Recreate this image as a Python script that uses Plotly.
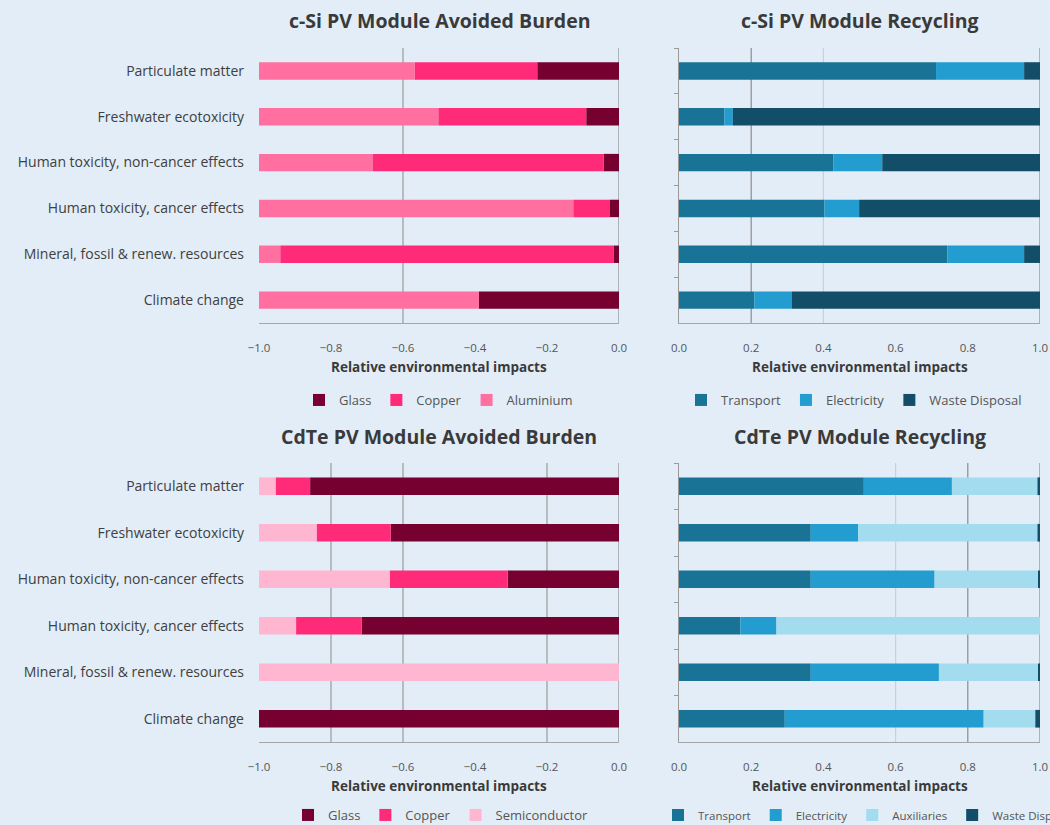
import plotly.graph_objects as go

# ---------------- data ----------------
categories = [
    "Particulate matter",
    "Freshwater ecotoxicity",
    "Human toxicity, non-cancer effects",
    "Human toxicity, cancer effects",
    "Mineral, fossil & renew. resources",
    "Climate change",
]

# c-Si avoided burden (relative, negative)
csi_glass = [-0.227, -0.091, -0.043, -0.025, -0.014, -0.389]
csi_copper = [-0.340, -0.411, -0.642, -0.102, -0.927, 0.0]
csi_aluminium = [-0.433, -0.498, -0.315, -0.873, -0.059, -0.611]

# c-Si recycling
csi_transport = [0.712, 0.126, 0.428, 0.403, 0.743, 0.209]
csi_electricity = [0.244, 0.023, 0.135, 0.096, 0.213, 0.103]
csi_waste = [0.044, 0.851, 0.437, 0.501, 0.044, 0.688]

# CdTe avoided burden
cdte_glass = [-0.858, -0.634, -0.309, -0.715, 0.0, -1.0]
cdte_copper = [-0.096, -0.206, -0.328, -0.182, 0.0, 0.0]
cdte_semiconductor = [-0.046, -0.160, -0.363, -0.103, -1.0, 0.0]

# CdTe recycling
cdte_transport = [0.512, 0.365, 0.365, 0.170, 0.365, 0.293]
cdte_electricity = [0.244, 0.131, 0.343, 0.100, 0.355, 0.551]
cdte_auxiliaries = [0.237, 0.497, 0.287, 0.730, 0.275, 0.143]
cdte_waste = [0.007, 0.007, 0.005, 0.0, 0.005, 0.013]

titles = [
    "c-Si PV Module Avoided Burden",
    "c-Si PV Module Recycling",
    "CdTe PV Module Avoided Burden",
    "CdTe PV Module Recycling",
]
x_title = "Relative environmental impacts"

# ---------------- style ----------------
BG = "#e2edf7"
FONT = "'Open Sans', Lato, sans-serif"
C_GLASS = "#760030"
C_COPPER = "#ff2a78"
C_ALU = "#ff6f9f"
C_SEMI = "#ffb6d0"
C_TRANS = "#187397"
C_ELEC = "#239dcf"
C_AUX = "#a3dcef"
C_WASTE = "#134e68"

fig = go.Figure()

panels = [
    ("x", "y", "legend", [("Glass", csi_glass, C_GLASS), ("Copper", csi_copper, C_COPPER),
                          ("Aluminium", csi_aluminium, C_ALU)]),
    ("x2", "y2", "legend2", [("Transport", csi_transport, C_TRANS), ("Electricity", csi_electricity, C_ELEC),
                             ("Waste Disposal", csi_waste, C_WASTE)]),
    ("x3", "y3", "legend3", [("Glass", cdte_glass, C_GLASS), ("Copper", cdte_copper, C_COPPER),
                             ("Semiconductor", cdte_semiconductor, C_SEMI)]),
    ("x4", "y4", "legend4", [("Transport", cdte_transport, C_TRANS), ("Electricity", cdte_electricity, C_ELEC),
                             ("Auxiliaries", cdte_auxiliaries, C_AUX), ("Waste Disposal", cdte_waste, C_WASTE)]),
]

for xa, ya, lg, series in panels:
    for name, vals, col in series:
        fig.add_trace(go.Bar(
            y=categories, x=vals, name=name, orientation="h",
            marker=dict(color=col, line=dict(width=0)),
            xaxis=xa, yaxis=ya, legend=lg,
        ))

W, H = 1050, 825
xl = [259 / W, 619 / W]
xr = [679 / W, 1040 / W]
yt = [1 - 323 / H, 1 - 48 / H]
yb = [1 - 742 / H, 1 - 463 / H]

tickfont = dict(family=FONT, size=11.5, color="#555555")
catfont = dict(family=FONT, size=14, color="#404040")

def xax(domain, rng, anchor):
    return dict(domain=domain, range=rng, anchor=anchor, dtick=0.2, tickformat=".1f",
                showgrid=False, zeroline=False, showline=True, linecolor="#a6a6a6",
                linewidth=1, ticks="", tickfont=tickfont, ticklabelstandoff=14,
                automargin=False, fixedrange=True)

def yax(domain, anchor, labels):
    d = dict(domain=domain, anchor=anchor, autorange="reversed", type="category",
             showgrid=False, zeroline=False, tickfont=catfont, automargin=False, fixedrange=True)
    if labels:
        d.update(showticklabels=True, ticks="", showline=False, ticklabelstandoff=14)
    else:
        d.update(showticklabels=False, showline=True, linecolor="#999999", linewidth=1,
                 ticks="outside", tickson="boundaries", ticklen=4, tickcolor="#999999")
    return d

fig.update_layout(
    width=W, height=H,
    margin=dict(l=0, r=0, t=0, b=0, autoexpand=False),
    paper_bgcolor=BG, plot_bgcolor=BG,
    barmode="relative", bargap=0.62,
    font=dict(family=FONT, color="#444444"),
    xaxis=xax(xl, [-1.0, 0.0], "y"),
    yaxis=yax(yt, "x", True),
    xaxis2=xax(xr, [0.0, 1.0], "y2"),
    yaxis2=yax(yt, "x2", False),
    xaxis3=xax(xl, [-1.0, 0.0], "y3"),
    yaxis3=yax(yb, "x3", True),
    xaxis4=xax(xr, [0.0, 1.0], "y4"),
    yaxis4=yax(yb, "x4", False),
    showlegend=True,
)

legfont = dict(family=FONT, size=13, color="#555555")
common = dict(orientation="h", xanchor="left", yanchor="middle", font=legfont,
              bgcolor="rgba(0,0,0,0)", traceorder="normal", itemwidth=30)
fig.update_layout(
    legend=dict(common, x=299 / W, y=1 - 400 / H),
    legend2=dict(common, x=681 / W, y=1 - 400 / H),
    legend3=dict(common, x=288 / W, y=1 - 815 / H),
    legend4=dict(common, x=658 / W, y=1 - 815 / H, font=dict(legfont, size=11.5)),
)

# vertical gridlines as seen in the reference
grids = [
    ("x", "y", [(-0.6, "#9a9a9a"), (0.0, "#8c8c8c")]),
    ("x2", "y2", [(0.2, "#8c8c8c"), (0.4, "#c9d2da"), (1.0, "#8c8c8c")]),
    ("x3", "y3", [(-0.8, "#9a9a9a"), (-0.6, "#9a9a9a"), (-0.2, "#9a9a9a"), (0.0, "#8c8c8c")]),
    ("x4", "y4", [(0.6, "#c9d2da"), (0.8, "#8c8c8c"), (1.0, "#8c8c8c")]),
]
for xa, ya, lines in grids:
    for xv, col in lines:
        fig.add_shape(type="line", xref=xa, yref=f"{ya} domain", x0=xv, x1=xv, y0=0, y1=1,
                      line=dict(color=col, width=1.2), layer="below")

# titles and axis titles
for i, (xa, ya) in enumerate([("x", "y"), ("x2", "y2"), ("x3", "y3"), ("x4", "y4")]):
    fig.add_annotation(text=f"<b>{titles[i]}</b>", xref=f"{xa} domain", yref=f"{ya} domain",
                       x=0.5, y=1, yanchor="middle", yshift=28 if i < 2 else 26, showarrow=False,
                       font=dict(family=FONT, size=19.5, color="#3a3a3a"))
    fig.add_annotation(text=f"<b>{x_title}</b>", xref=f"{xa} domain", yref=f"{ya} domain",
                       x=0.5, y=0, yanchor="middle", yshift=-44, showarrow=False,
                       font=dict(family=FONT, size=13.5, color="#3a3a3a"))

fig.write_html("out.html", config={"displayModeBar": False},
               post_script="document.body.style.margin='0';document.body.style.overflow='hidden';")
